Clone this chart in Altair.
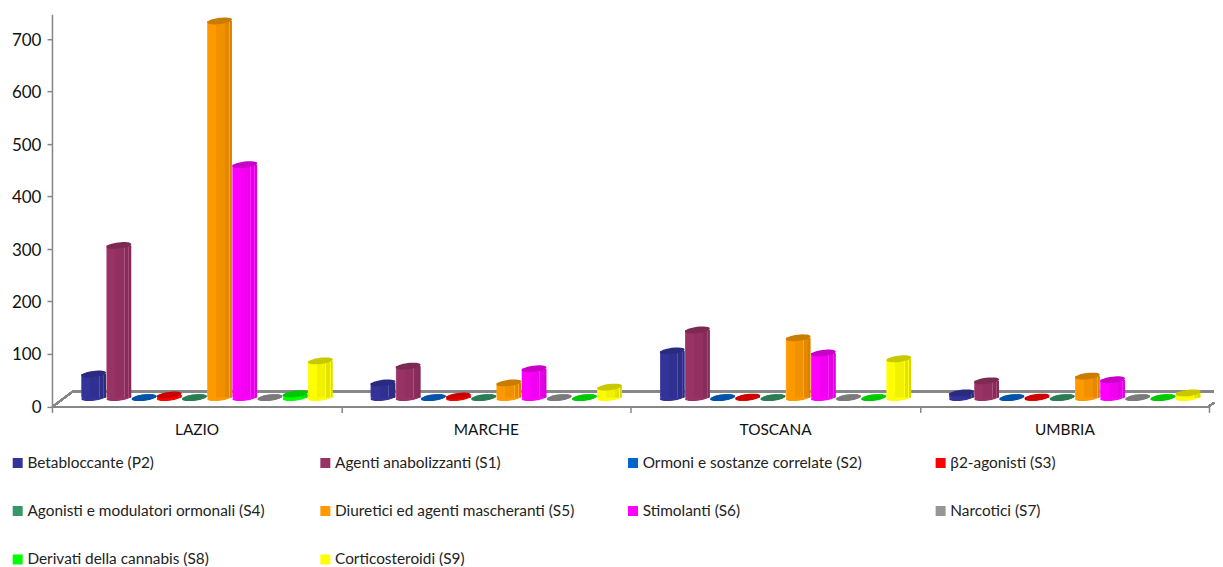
import math
import altair as alt
import pandas as pd

regions = ["LAZIO", "MARCHE", "TOSCANA", "UMBRIA"]
series = [
    "Betabloccante (P2)", "Agenti anabolizzanti (S1)", "Ormoni e sostanze correlate (S2)", "β2-agonisti (S3)",
    "Agonisti e modulatori ormonali (S4)", "Diuretici ed agenti mascheranti (S5)", "Stimolanti (S6)", "Narcotici (S7)",
    "Derivati della cannabis (S8)", "Corticosteroidi (S9)",
]
lazio = [45, 290, 0, 5, 0, 718, 444, 0, 7, 70]
marche = [28, 60, 0, 3, 0, 28, 55, 0, 0, 20]
toscana = [89, 129, 0, 1, 0, 114, 85, 0, 0, 74]
umbria = [9, 32, 0, 1, 0, 41, 34, 0, 0, 9]
colors = ["#333399", "#993366", "#0066CC", "#FF0000", "#339966", "#FF9900", "#FF00FF", "#969696", "#00FF00", "#FFFF00"]
cap_colors = ["#2A2A80", "#7D2A53", "#0053A6", "#CC0000", "#2A7D53", "#C87D00", "#C800C8", "#7A7A7A", "#00C800", "#C8C800"]

rows = []
for region, vals in zip(regions, [lazio, marche, toscana, umbria]):
    for s, v in zip(series, vals):
        rows.append({"region": region, "series": s, "value": v})
df = pd.DataFrame(rows)

# tilted flat ellipse used for the cylinder caps
def ellipse_path(a=1.0, b=0.25, deg=-7, n=32):
    t = math.radians(deg)
    pts = []
    for i in range(n):
        u = 2 * math.pi * i / n
        x, y = a * math.cos(u), b * math.sin(u)
        pts.append((x * math.cos(t) - y * math.sin(t), x * math.sin(t) + y * math.cos(t)))
    return "M" + " L".join(f"{x:.3f},{y:.3f}" for x, y in pts) + " Z"

def tint(hex_color, k):
    rgb = [int(hex_color[i:i + 2], 16) for i in (1, 3, 5)]
    if k <= 1:
        out = [round(c * k) for c in rgb]
    else:
        out = [round(c + (255 - c) * (k - 1)) for c in rgb]
    return "#%02X%02X%02X" % tuple(out)

def facet_gradient(c):
    bands = [(0.0, 0.025, 1.12), (0.025, 0.36, 1.0), (0.36, 0.71, 0.95), (0.71, 0.74, 1.15),
             (0.74, 0.89, 0.89), (0.89, 0.92, 1.12), (0.92, 1.0, 0.85)]
    stops = []
    for a, b, k in bands:
        stops.append(alt.GradientStop(offset=a, color=tint(c, k)))
        stops.append(alt.GradientStop(offset=b, color=tint(c, k)))
    return alt.LinearGradient(gradient="linear", x1=0, x2=1, y1=0, y2=0, stops=stops)

ELL = ellipse_path()
LIFT = -8.8
FONT = "Lato"
GREY = "#868686"
W, H = 1158, 392.5

x_axis = alt.Axis(tickBand="extent", labelAngle=0, labelFont=FONT, labelFontSize=15.4, labelColor="#111111",
                  domainColor=GREY, domainWidth=2, tickColor=GREY, tickWidth=1.5, tickSize=6, labelPadding=10)
x_scale = alt.Scale(paddingInner=0, paddingOuter=0)
x_enc = alt.X("region:N", sort=regions, title=None, scale=x_scale, axis=x_axis)
y_scale = alt.Scale(domain=[0, 747.6], nice=False)
y_axis = alt.Axis(values=[0, 100, 200, 300, 400, 500, 600, 700], grid=False, labelFont=FONT, labelFontSize=17,
                  labelColor="#111111", domainColor=GREY, domainWidth=1.5, tickColor=GREY, tickWidth=1.5,
                  tickSize=5, labelPadding=6, minExtent=44, maxExtent=44, labelOffset=1)
y_enc = alt.Y("value:Q", title=None, scale=y_scale, axis=y_axis)
off = alt.XOffset("series:N", sort=series, scale=alt.Scale(domain=series, range=[29.2, 281.2], paddingInner=0, paddingOuter=0))
color = alt.Color(
    "series:N", sort=series, scale=alt.Scale(domain=series, range=colors),
    legend=alt.Legend(orient="none", legendX=-42, legendY=441, columns=4, title=None, gridAlign="all",
                      columnPadding=50.9, rowPadding=31.5, symbolType="square", symbolSize=100, symbolStrokeWidth=0,
                      labelFont=FONT, labelFontSize=15.4, labelColor="#222222", labelLimit=300, labelOffset=2,
                      direction="horizontal"),
)
cap_fill = alt.Fill("series:N", sort=series, scale=alt.Scale(domain=series, range=cap_colors), legend=None)

base = alt.Chart(df)

floor_back = base.mark_rule(color=GREY, strokeWidth=1.5).encode(
    x=alt.value(21), x2=alt.value(W + 5), y=alt.value(H - 15))
floor_left = base.mark_rule(color=GREY, strokeWidth=1.5).encode(
    x=alt.value(1), x2=alt.value(21), y=alt.value(H), y2=alt.value(H - 15))
floor_right = base.mark_rule(color=GREY, strokeWidth=1.5).encode(
    x=alt.value(W), x2=alt.value(W + 5), y=alt.value(H), y2=alt.value(H - 3.7))

body = base.mark_bar(size=24.5, yOffset=LIFT, y2Offset=LIFT).encode(
    x=x_enc, xOffset=off, y=y_enc, y2=alt.datum(0), color=color)

bottom = base.mark_point(
    shape=ELL, size=625, filled=True, opacity=1, strokeWidth=0, yOffset=LIFT
).encode(x=x_enc, xOffset=off, y=alt.Y(datum=0, title=None, scale=y_scale, axis=y_axis), color=color)

facets = [
    base.transform_filter(alt.datum.series == s).mark_bar(
        size=24.5, yOffset=LIFT, y2Offset=LIFT, color=facet_gradient(c)
    ).encode(x=x_enc, xOffset=off, y=y_enc, y2=alt.datum(0))
    for s, c in zip(series, colors)
]

cap = base.mark_point(shape=ELL, size=625, filled=True, opacity=1, strokeWidth=0, yOffset=LIFT).encode(
    x=x_enc, xOffset=off, y=y_enc, fill=cap_fill)

chart = alt.layer(
    floor_back, floor_left, floor_right, bottom, body, *facets, cap
).properties(width=W, height=H, padding={"left": 0, "top": 6, "right": 0, "bottom": 0}).configure_view(stroke=None)

chart.save("out.html", embed_options={"renderer": "svg", "actions": False})
